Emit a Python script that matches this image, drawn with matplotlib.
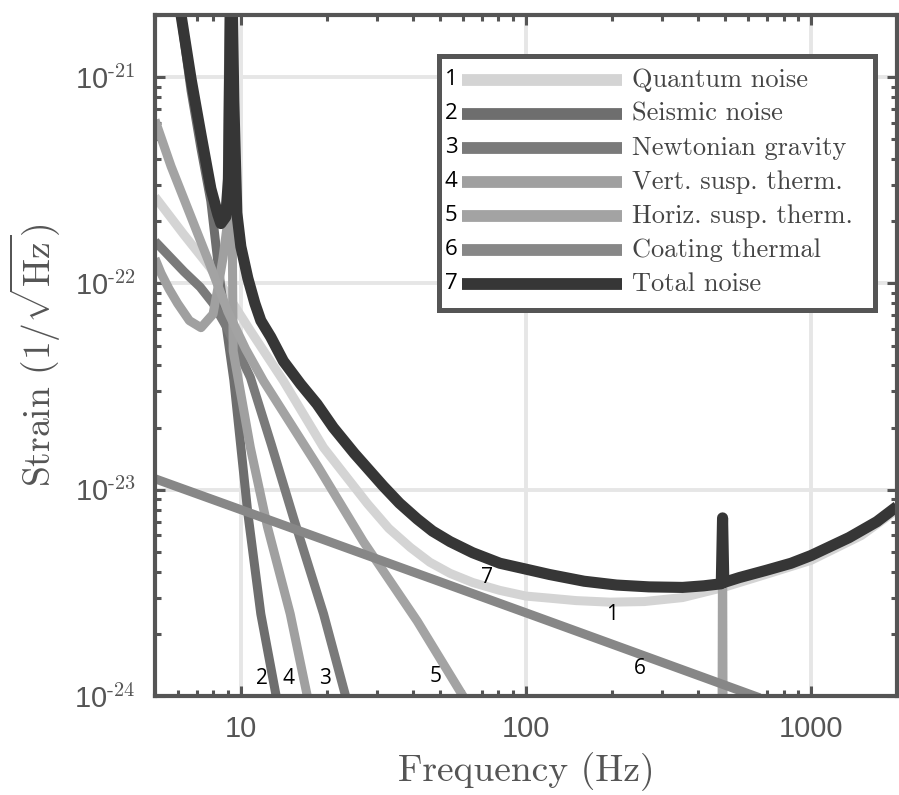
import matplotlib.pyplot as plt
from matplotlib.patches import Rectangle
from matplotlib.ticker import NullFormatter

plt.rcParams['font.family'] = ['Liberation Sans', 'DejaVu Sans']
plt.rcParams['mathtext.fontset'] = 'cm'

# noise curves: frequency (Hz) and strain (1/sqrt(Hz))
quantum_f = [5.0, 6.3, 7.85, 10.8, 14.1, 19.5, 27.8, 33, 39.3, 46, 54.2, 65, 81, 100, 121, 150, 197, 260,
             354, 489, 700, 1000, 1500, 2000]
quantum_s = [2.63e-22, 1.73e-22, 1.18e-22, 5.9e-23, 3.37e-23, 1.6e-23, 8.55e-24, 6.5e-24, 5.25e-24, 4.45e-24,
             3.93e-24, 3.55e-24, 3.25e-24, 3.05e-24, 2.98e-24, 2.9e-24, 2.85e-24, 2.87e-24, 3.0e-24, 3.35e-24,
             3.9e-24, 4.55e-24, 6.0e-24, 8.0e-24]

seismic_f = [6.1, 6.69, 7.25, 7.85, 8.51, 9.45, 10.58, 11.75, 13.3, 13.6]
seismic_s = [2.2e-21, 8.6e-22, 4.5e-22, 2.5e-22, 9.5e-23, 3.4e-23, 7.7e-24, 2.5e-24, 1.0e-24, 0.8e-24]

newton_f = [5.0, 6.32, 7.2, 7.99, 9.0, 10.8, 12.8, 15.3, 19.5, 23.3, 24.0]
newton_s = [1.6e-22, 1.14e-22, 9.6e-23, 8.0e-23, 6.0e-23, 3.5e-23, 1.65e-23, 7.3e-24, 2.5e-24, 1.0e-24, 0.87e-24]

vert_f = [5.0, 5.25, 5.6, 6.0, 6.6, 7.25, 7.99, 8.31, 8.65, 8.93, 9.15, 9.4, 10.8, 12.4, 14.9, 17.1, 17.6]
vert_s = [1.32e-22, 1.12e-22, 9.4e-23, 8.0e-23, 6.6e-23, 6.1e-23, 7.1e-23, 9.5e-23, 1.32e-22, 1.85e-22,
          5e-21, 4.7e-23, 1.6e-23, 6.6e-24, 2.5e-24, 1.0e-24, 0.85e-24]

horiz_f = [5.0, 5.69, 6.69, 7.85, 9.0, 10.4, 12.0, 18.6, 26.9, 41.6, 60.1, 63, 100, 300, 484, 489, 494,
           1000, 2000]
horiz_s = [6.2e-22, 3.7e-22, 2.1e-22, 1.2e-22, 7.3e-23, 4.8e-23, 3.37e-23, 1.3e-23, 5.6e-24, 2.3e-24, 1.0e-24,
           0.9e-24, 3e-25, 6e-26, 3e-26, 7.2e-24, 3e-26, 1e-26, 3e-27]

coating_f = [5.0, 10.0, 100.0, 660.0]
coating_s = [1.13e-23, 8.0e-24, 2.53e-24, 0.98e-24]

total_f = [6.0, 6.17, 6.69, 7.25, 7.85, 8.31, 8.51, 8.85, 9.05, 9.25, 9.45, 9.68, 10.0, 10.58, 11.2, 11.75,
           12.73, 14.1, 16.2, 18.5, 21.1, 25, 31.6, 36, 41.6, 47, 54.2, 65, 81, 100, 121, 160, 208, 270, 354,
           420, 484, 489, 494, 560, 697, 850, 1000, 1358, 1700, 2000]
total_s = [3e-21, 2.0e-21, 9.8e-22, 5.25e-22, 2.88e-22, 2.15e-22, 1.95e-22, 2.1e-22, 3.2e-22, 5e-21, 7.6e-22,
           2.2e-22, 1.51e-22, 1.06e-22, 8.0e-23, 6.6e-23, 5.5e-23, 4.2e-23, 3.25e-23, 2.6e-23, 2.0e-23,
           1.5e-23, 1.04e-23, 8.6e-24, 7.2e-24, 6.3e-24, 5.6e-24, 4.95e-24, 4.4e-24, 4.12e-24, 3.88e-24,
           3.6e-24, 3.45e-24, 3.38e-24, 3.36e-24, 3.42e-24, 3.5e-24, 7.3e-24, 3.55e-24, 3.75e-24, 4.07e-24,
           4.4e-24, 4.8e-24, 5.86e-24, 7.0e-24, 8.3e-24]

names = ['Quantum noise', 'Seismic noise', 'Newtonian gravity', 'Vert. susp. therm.',
         'Horiz. susp. therm.', 'Coating thermal', 'Total noise']
colors = ['#d4d4d4', '#6e6e6e', '#7a7a7a', '#a0a0a0', '#a3a3a3', '#878787', '#363636']
curves = [(quantum_f, quantum_s), (seismic_f, seismic_s), (newton_f, newton_s), (vert_f, vert_s),
          (horiz_f, horiz_s), (coating_f, coating_s), (total_f, total_s)]

# number tags placed next to the curves
tag_text = ['2', '4', '3', '5', '6', '1', '7']
tag_f = [11.84, 14.7, 19.8, 48.1, 250, 200, 73.1]
tag_s = [1.22e-24, 1.22e-24, 1.22e-24, 1.24e-24, 1.36e-24, 2.49e-24, 3.76e-24]

x_ticks = [10, 100, 1000]
x_labels = ['10', '100', '1000']
y_ticks = [1e-24, 1e-23, 1e-22, 1e-21]
y_labels = [r'$\mathdefault{10^{\text{-24}}}$', r'$\mathdefault{10^{\text{-23}}}$',
            r'$\mathdefault{10^{\text{-22}}}$', r'$\mathdefault{10^{\text{-21}}}$']

fig = plt.figure(figsize=(8.99, 7.95), dpi=100)
ax = fig.add_axes([155 / 899, 1 - 696 / 795, 742 / 899, 681 / 795])

for i, (f, s) in enumerate(curves):
    lw = 8.0 if i == 6 else 6.5
    ax.plot(f, s, color=colors[i], lw=lw, solid_capstyle='butt', zorder=2 + i)

for t, f, s in zip(tag_text, tag_f, tag_s):
    ax.text(f, s, t, fontfamily='Open Sans', fontsize=15, ha='center', va='center', color='black', zorder=12)

ax.set_xscale('log')
ax.set_yscale('log')
ax.set_xlim(5, 2000)
ax.set_ylim(1e-24, 2e-21)
ax.set_xticks(x_ticks, labels=x_labels)
ax.set_yticks(y_ticks, labels=y_labels)
ax.xaxis.set_minor_formatter(NullFormatter())
ax.yaxis.set_minor_formatter(NullFormatter())

gray = '#555555'
ax.grid(True, which='major', color='#e6e6e6', lw=2.8)
ax.set_axisbelow(True)
for sp in ax.spines.values():
    sp.set_linewidth(3)
    sp.set_color(gray)
    sp.set_zorder(20)
ax.tick_params(which='both', direction='in', top=True, right=True, color=gray, width=2.2,
               labelsize=21, labelcolor=gray, pad=14)
ax.tick_params(which='major', length=7)
ax.tick_params(which='minor', length=4)

ax.set_xlabel('Frequency (Hz)', fontfamily='cmr10', fontsize=27, color=gray, labelpad=6)
ax.set_ylabel(r'Strain $(1/\sqrt{\mathrm{Hz}})$', fontfamily='cmr10', math_fontfamily='cm',
              fontsize=27, color=gray, labelpad=8)

# legend drawn by hand: numbered thick bars inside a framed box
box = Rectangle((0.3834, 0.5675), 0.5863, 0.373, transform=ax.transAxes, facecolor='white',
                edgecolor=gray, lw=3.6, zorder=30)
ax.add_patch(box)
for i, name in enumerate(names):
    y = 0.9046 - i * 0.0499
    ax.plot([0.4137, 0.6294], [y, y], transform=ax.transAxes, color=colors[i], lw=8.5,
            solid_capstyle='butt', zorder=31)
    ax.text(0.408, y, str(i + 1), transform=ax.transAxes, fontfamily='Open Sans', fontsize=16,
            ha='right', va='center', color='black', zorder=31)
    ax.text(0.643, y, name, transform=ax.transAxes, fontfamily='cmr10', fontsize=19,
            ha='left', va='center', color='#444444', zorder=31)

fig.savefig('out.png', dpi=100)
